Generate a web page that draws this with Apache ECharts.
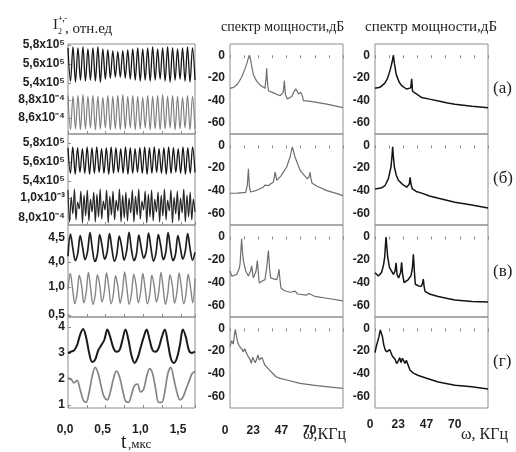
<!DOCTYPE html>
<html><head><meta charset="utf-8">
<script src="https://cdn.jsdelivr.net/npm/echarts@6/dist/echarts.min.js"></script>
<style>html,body{margin:0;padding:0;background:#fff}#c{width:516px;height:452px}</style>
</head><body><div id="c"></div>
<script>
// ---------- DATA ----------
const T_MAX = 1.686;              // μs, right edge of time frames
const F_MAX = 93.33;              // kHz, right edge of spectrum frames
const timeTickLabels = ['0,0','0,5','1,0','1,5'];
const freqTickLabels = ['0','23','47','70'];
const dbTickValues = [0,-20,-40,-60];
const panelLetters = ['(а)','(б)','(в)','(г)'];

// (а) I2 traces: upper x1e5, lower x1e-4
const a1Upper = [5.77,5.42,5.78,5.41,5.77,5.43,5.78,5.42,5.76,5.43,5.77,5.42,5.78,5.41,5.76,5.44,5.75,5.45,5.74,5.46,5.73,5.46,5.74,5.45,5.75,5.44,5.76,5.43,5.77,5.42,5.76,5.43,5.77,5.42,5.78,5.43,5.76,5.44,5.77,5.42,5.78,5.41,5.77,5.43,5.76,5.44,5.77,5.42,5.78,5.41,5.77,5.43];
const a1Lower = [8.85,8.47,8.84,8.48,8.85,8.47,8.86,8.48,8.84,8.49,8.85,8.47,8.84,8.48,8.83,8.49,8.85,8.47,8.84,8.48,8.85,8.47,8.86,8.48,8.84,8.49,8.85,8.47,8.84,8.48,8.83,8.49,8.85,8.47,8.84,8.48,8.85,8.47,8.86,8.48,8.84,8.49,8.85,8.47,8.84,8.48,8.83,8.49,8.85,8.47,8.84,8.48];
// (б) upper x1e5, lower x1e-4
const a2Upper = [5.75,5.48,5.76,5.47,5.75,5.49,5.74,5.48,5.76,5.47,5.75,5.48,5.76,5.49,5.74,5.48,5.75,5.47,5.76,5.48,5.75,5.49,5.74,5.48,5.76,5.47,5.75,5.48,5.74,5.49,5.75,5.48,5.76,5.47,5.75,5.48,5.76,5.49,5.74,5.48,5.75,5.47,5.76,5.48,5.75,5.49,5.74,5.48,5.76,5.47,5.75,5.48,5.76,5.49];
const a2Lower = [10.8,7.6,10.1,8.4,10.9,7.8,9.6,8.9,10.7,7.5,10.3,8.2,10.8,7.7,9.9,8.6,10.6,7.6,10.4,8.1,10.9,7.9,9.7,8.8,10.8,7.5,10.2,8.3,10.7,7.8,9.8,8.7,10.9,7.6,10.3,8.0,10.6,7.7,10.0,8.5,10.8,7.6,10.2,8.3,10.9,7.9,9.7,8.8,10.7,7.5,10.4,8.1,10.8,7.7,9.9,8.6,10.6,7.6,10.3,8.2,10.9,7.8,9.8,8.7,10.8,7.5,10.1,8.4,10.7,7.7,10.0,8.5,10.9,7.6,10.3,8.1,10.6,7.8,9.9,8.6];
// (в)
const a3Upper = [4.12,4.58,4.28,4.03,4.18,4.55,4.30,4.05,4.22,4.61,4.26,4.01,4.15,4.57,4.32,4.06,4.20,4.59,4.27,4.02,4.17,4.54,4.31,4.04,4.23,4.62,4.25,4.03,4.16,4.56,4.29,4.08,4.21,4.60,4.28,4.02,4.18,4.57,4.33,4.05,4.19,4.61,4.26,4.03,4.16,4.55,4.30,4.06,4.22,4.59,4.27,4.04,4.20];
const a3Lower = [0.95,1.24,0.98,0.70,0.88,1.21,1.02,0.72,0.90,1.26,0.97,0.69,0.86,1.22,1.03,0.73,0.91,1.25,0.99,0.70,0.87,1.20,1.01,0.71,0.92,1.27,0.96,0.69,0.88,1.23,1.04,0.72,0.90,1.24,0.98,0.70,0.86,1.21,1.02,0.73,0.91,1.26,0.97,0.69,0.89,1.22,1.03,0.71,0.90,1.25,0.99,0.70,0.87,1.23,1.00,0.72,1.15];
// (г)
const a4Upper = [3.0,3.05,3.1,3.3,3.7,3.92,3.6,3.0,2.65,2.75,3.1,3.3,3.5,3.9,3.6,3.2,3.05,3.1,3.5,3.9,3.5,2.9,2.62,2.8,3.2,3.6,3.9,3.5,3.1,3.05,3.2,3.6,3.9,3.4,2.8,2.62,2.8,3.3,3.9,3.6,3.1,3.0,3.05];
const a4Lower = [2.05,2.0,1.85,1.95,1.6,1.2,1.1,1.5,2.1,2.45,2.2,1.7,1.3,1.2,1.5,2.0,2.3,2.1,1.6,1.15,1.1,1.4,1.75,1.8,1.5,1.6,2.1,2.4,2.2,1.6,1.1,1.1,1.5,2.2,2.45,2.0,1.5,1.2,1.3,1.6,1.9,2.2,2.3];

// spectra (kHz, dB)
const midA_f = [0,3,6,9.6,12,14,15,16,17,18,19.3,22,24.8,28.9,29.8,30.3,30.8,31.7,35,41.3,44,44.9,45.8,47.4,51,53,54.5,55.5,56.7,58.5,59.2,60,60.6,65,71.6,80,93.3];
const midA_db = [-29.4,-28.5,-26,-19.6,-13,-7,-3,0,-4,-10,-17.3,-23,-26.4,-29.4,-20,-11.6,-22,-31.5,-33,-36,-33,-22.6,-35,-38.9,-36.6,-32,-30,-31,-34.4,-33,-31.5,-37,-40.4,-40.8,-41.9,-43.5,-46.5];
const rigA_f = [0,4,8,10.2,12,13.5,14.5,15.2,16,17.5,20,22,26,29.5,30.3,31,33,38.6,45,52.4,60,66,80,93.3];
const rigA_db = [-29.4,-28.5,-25,-21,-15,-9,-4,0,-7,-17,-24,-27,-30,-29,-21,-32,-33.5,-37.6,-39,-40.6,-42.5,-43.6,-45.4,-46.6];
const midB_f = [0,6,13,14.3,15.2,16,17,22,27.5,28.8,29.5,30.3,31.7,34,35.8,36.6,37.2,38,38.6,42,46.8,49.6,51.5,53.7,57.9,61,63.9,65.5,66.1,66.8,67.8,72,79.9,87,93.3];
const midB_db = [-42.1,-42,-41.3,-35,-20.5,-36,-41,-39.5,-36.8,-35,-33.3,-34.5,-35.3,-33.5,-32.4,-28,-23.5,-27,-30.7,-27,-19,-10.2,-1.3,-10.2,-22,-26,-29.4,-27,-23.5,-29,-33.3,-36,-39.8,-42,-44.2];
const rigB_f = [0,5,8.3,11,13.2,14.0,14.6,15.2,16,17.5,19.3,23,26.2,28.3,29,29.7,30.9,34,38.6,45,52.4,66,80,93.3];
const rigB_db = [-38.3,-37.5,-35.3,-29.4,-19,-10,-1.3,-10,-19,-26,-30.7,-34.5,-36.8,-34,-28,-34,-38.3,-40.5,-42,-44.5,-46.5,-50,-52.5,-55];
const midC_f = [0,1.4,5.5,7.5,8.3,9.0,9.6,10.2,11,13,15.2,17.0,17.9,18.8,19.3,21.5,22.6,23.5,24.2,27,28.9,30.3,31.7,32.7,33.6,36,38.6,39.8,40.5,41.3,42.1,44,46.8,50,53.7,56,63,65,70,79.9,93.3];
const midC_db = [-30,-34.4,-33,-28,-24,-12,-1.9,-12,-21,-30,-34.4,-30,-25.6,-33,-36,-30,-21,-33,-40.4,-38.5,-37.5,-27,-12.2,-28,-36,-36.8,-37.5,-33,-28.5,-38,-44.8,-46.5,-47.8,-48.5,-47.5,-50,-51,-49.5,-52,-53.7,-56];
const rigC_f = [0,2.8,5.5,7.0,8.0,8.6,9.1,9.7,10.5,12,15.2,16.6,17.4,18.2,19.5,21.2,22.0,22.8,24,27,29.8,30.9,31.7,32.5,33.3,36,38.3,39.4,39.9,40.5,41.3,45,52.1,60,66,80,93.3];
const rigC_db = [-31.5,-34.4,-31,-25,-18,-8,-0.5,-8,-18,-27,-33,-30,-23,-33,-36,-31,-22.5,-33,-40,-38,-34,-27,-15.4,-30,-41.5,-43,-43.3,-40,-37,-43,-47.8,-50,-52.2,-54,-55.2,-56.5,-57];
const midD_f = [0,1.4,2.75,3.6,4.4,5.5,6.6,7.7,8.8,9.9,11,12.1,13.2,14.3,15.4,16.5,17.6,18.7,19.8,20.9,22,23.1,24.2,25.3,26.4,27.5,28.7,30.3,33.1,35.8,38,41.3,46.8,57.9,71.6,93.3];
const midD_db = [-16.1,-10.8,-13.8,-5.9,-0.9,-7.9,-13.2,-15.5,-14.9,-18.5,-20.5,-17.9,-19.6,-23.4,-24.9,-27.2,-30.8,-25.5,-26.4,-30.2,-27.2,-23.4,-27.8,-29.3,-25.5,-27.2,-32.2,-33.7,-37.2,-40.1,-42.5,-44,-45.4,-48.3,-50.4,-52.7];
const rigD_f = [0,1.1,2.2,3.3,4.4,5.2,6.1,7.2,8.3,9.6,11,12.1,13.2,14.3,15.4,16.5,17.9,19.3,20.4,21.5,22.6,23.7,24.8,25.9,27,28.9,31.7,35.8,41.3,52.3,66.1,79.9,93.3];
const rigD_db = [-21.4,-15.7,-11.4,-7.1,-1.4,-0.6,-7.1,-14.3,-18.6,-20.6,-20.9,-18.6,-21.4,-24.3,-22.9,-27.1,-30.9,-28.6,-25.7,-30,-26.3,-28.6,-30.9,-28,-31.4,-36.6,-39.4,-41.4,-43.4,-47.1,-50,-51.4,-53.4];

// ---------- LAYOUT ----------
const rowTop = [44,134,225,317];
const rowBot = [134,225,317,408];
const colLeft = {t:68, m:230, r:375};
const colW = {t:127, m:113, r:113};
const FRAME = '#8c8c8c';
const LBL = {color:'#1e1e1e', fontFamily:'Liberation Sans, Arial, sans-serif', fontWeight:'bold', fontSize:12};

const grids=[], xAxes=[], yAxes=[], series=[];
function addGrid(g){grids.push(g);return grids.length-1;}

// time frames
rowTop.forEach((top,i)=>{
  const gi = addGrid({left:colLeft.t, top:top, width:colW.t, height:rowBot[i]-top, show:true, borderColor:FRAME, borderWidth:1, backgroundColor:'transparent'});
  xAxes.push({gridIndex:gi, type:'value', min:0, max:T_MAX, interval:0.25,
    axisLine:{show:false}, splitLine:{show:false},
    axisTick:{show:true, inside:true, length:3, lineStyle:{color:FRAME}},
    axisLabel: i===3 ? Object.assign({show:true, margin:16, padding:[0,6,0,0], formatter:v=>{const k=Math.round(v/0.5); return Math.abs(v-k*0.5)<1e-6 && k<timeTickLabels.length ? timeTickLabels[k] : '';}}, LBL) : {show:false}});
  yAxes.push({gridIndex:gi, type:'value', min:0, max:1, show:false});
});

// half axes for time traces
function addTrace(top, height, min, max, interval, labelFn, data){
  const gi = addGrid({left:colLeft.t, top:top, width:colW.t, height:height, show:false});
  xAxes.push({gridIndex:gi, type:'value', min:0, max:T_MAX, show:false});
  yAxes.push({gridIndex:gi, type:'value', min:min, max:max, interval:interval,
    axisLine:{show:false}, splitLine:{show:false},
    axisTick:{show:true, inside:true, length:3, lineStyle:{color:FRAME}},
    axisLabel:Object.assign({margin:3, formatter:labelFn}, LBL)});
  const xi = xAxes.length-1, yi = yAxes.length-1;
  data.forEach(d=>{
    series.push({type:'line', xAxisIndex:xi, yAxisIndex:yi, showSymbol:false, smooth:0.35, clip:false,
      lineStyle:{color:d.color, width:d.width}, silent:true, animation:false,
      data:d.values.map((v,k)=>[k*T_MAX/(d.values.length-1), v])});
  });
}
const fmt1 = v=>v.toFixed(1).replace('.',',');
addTrace(45,38,5.4,5.8,0.2, v=>fmt1(v)+'x10⁵', [{values:a1Upper,color:'#161616',width:1.3}]);
addTrace(100,18,8.6,8.8,0.2, v=>fmt1(v)+'x10⁻⁴', [{values:a1Lower,color:'#808080',width:1.2}]);
addTrace(143,38,5.4,5.8,0.2, v=>fmt1(v)+'x10⁵', [{values:a2Upper,color:'#161616',width:1.3}]);
addTrace(198,20,8,10,2, v=>Math.round(v)===10?'1,0x10⁻³':'8,0x10⁻⁴', [{values:a2Lower,color:'#262626',width:1.2}]);
addTrace(238,24,4.0,4.5,0.5, v=>fmt1(v), [{values:a3Upper,color:'#1e1e1e',width:1.7}]);
addTrace(287,28,0.5,1.0,0.5, v=>fmt1(v), [{values:a3Lower,color:'#858585',width:1.4}]);
addTrace(327,78,1,4,1, v=>String(Math.round(v)), [{values:a4Upper,color:'#1a1a1a',width:2},{values:a4Lower,color:'#858585',width:1.7}]);

// spectra
const specs = {
  m:[[midA_f,midA_db],[midB_f,midB_db],[midC_f,midC_db],[midD_f,midD_db]],
  r:[[rigA_f,rigA_db],[rigB_f,rigB_db],[rigC_f,rigC_db],[rigD_f,rigD_db]]
};
['m','r'].forEach(col=>{
  rowTop.forEach((top,i)=>{
    const gi = addGrid({left:colLeft[col], top:top, width:colW[col], height:rowBot[i]-top, show:true, borderColor:FRAME, borderWidth:1, backgroundColor:'transparent'});
    const step = F_MAX/8;
    xAxes.push({gridIndex:gi, type:'value', min:0, max:F_MAX, interval:step,
      axisLine:{show:false}, splitLine:{show:false},
      axisTick:{show:true, inside:false, length:3, lineStyle:{color:FRAME}},
      axisLabel: i===3 ? Object.assign({show:true, margin: col==='m'?17:11, padding:[0,10,0,0], formatter:v=>{const k=Math.round(v/step); return (Math.abs(v-k*step)<1e-6 && k%2===0 && k/2<freqTickLabels.length)?freqTickLabels[k/2]:'';}}, LBL) : {show:false}});
    yAxes.push({gridIndex:gi, type:'value', min:-70, max:10, interval:10,
      axisLine:{show:false}, splitLine:{show:false},
      axisTick:{show:false},
      axisLabel:Object.assign({margin:5, formatter:v=>dbTickValues.indexOf(Math.round(v))>=0?String(Math.round(v)):''}, LBL)});
    const [f,db] = specs[col][i];
    series.push({type:'line', xAxisIndex:xAxes.length-1, yAxisIndex:yAxes.length-1, showSymbol:false, clip:true, silent:true, animation:false,
      lineStyle:{color: col==='m'?'#6e6e6e':'#141414', width: col==='m'?1.2:1.5},
      data:f.map((x,k)=>[x, db[k]])});
  });
});

const serif = 'Liberation Serif, Times New Roman, serif';
const graphic = [
  {type:'text', left:53, top:18, style:{text:'I', font:'15px '+serif, fill:'#222'}},
  {type:'text', left:58, top:28, style:{text:'2', font:'8px '+serif, fill:'#222'}},
  {type:'text', left:58, top:15, style:{text:'+,-', font:'bold 8px '+serif, fill:'#222'}},
  {type:'text', left:65, top:22, style:{text:', отн.ед', font:'15px '+serif, fill:'#222'}},
  {type:'text', left:221, top:20, style:{text:'спектр мощности,дБ', font:'14px '+serif, fill:'#222'}},
  {type:'text', left:365, top:20, style:{text:'спектр мощности,дБ', font:'15px '+serif, fill:'#222'}},
  {type:'text', left:121, top:433, style:{text:'t', font:'20px '+serif, fill:'#222'}},
  {type:'text', left:128, top:438, style:{text:',мкс', font:'13px '+serif, fill:'#222'}},
  {type:'text', left:303, top:427, style:{text:'ω,КГц', font:'16px '+serif, fill:'#222'}},
  {type:'text', left:461, top:427, style:{text:'ω, КГц', font:'16px '+serif, fill:'#222'}}
];
const letterY = [80,170,263,353];
panelLetters.forEach((t,i)=>graphic.push({type:'text', left:493, top:letterY[i], style:{text:t, font:'17px '+serif, fill:'#222'}}));

const chart = echarts.init(document.getElementById('c'), null, {renderer:'canvas'});
chart.setOption({animation:false, backgroundColor:'#fff', grid:grids, xAxis:xAxes, yAxis:yAxes, series:series, graphic:graphic});
</script></body></html>
